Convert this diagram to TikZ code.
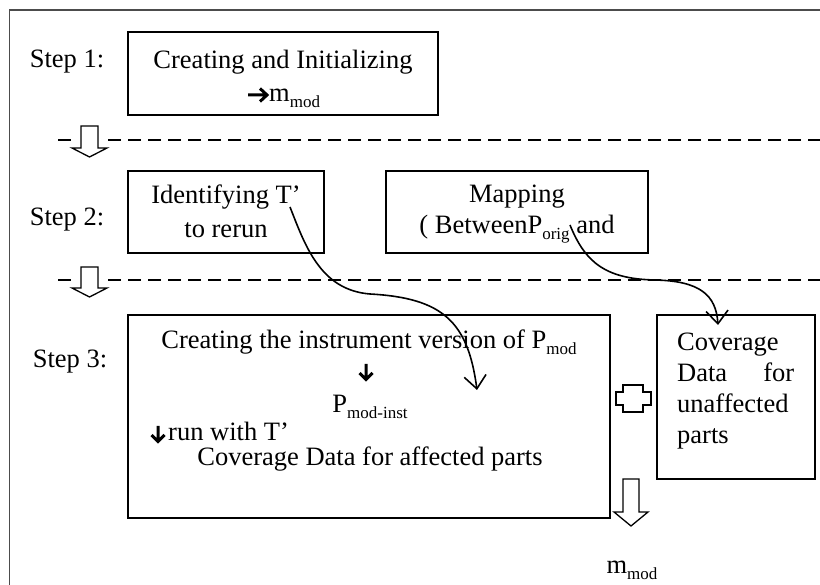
\documentclass[tikz,border=0pt]{standalone}
\usepackage{fontspec}
\setmainfont{Liberation Serif}
\usetikzlibrary{arrows.meta}
\newcommand\lsub[1]{\raisebox{-0.22em}{\fontsize{17}{17}\selectfont #1}}
\begin{document}
\begin{tikzpicture}[x=1pt,y=-1pt,
  txt/.style={font=\fontsize{26.5}{31}\selectfont, inner sep=0pt, anchor=center},
  stepbox/.style={draw=black, line width=1.3pt, fill=none, inner sep=0pt},
  frame/.style={draw=black!70, line width=1.2pt},
  sep/.style={line width=2.6pt, dash pattern=on 13pt off 7pt},
  hollow/.style={draw=black, fill=white, line width=1.3pt, line join=miter},
  glyph/.style={line width=3pt, line join=miter},
  link/.style={line width=1.6pt, -{Straight Barb[length=13pt, width=22pt]}}]
\useasboundingbox (0,0) rectangle (820,585);
% outer frame
\draw[frame] (9.5,585) -- (9.5,10) -- (820,10);
% step labels
\node[txt] (l1) at (67,62) {Step 1:};
\node[txt] (l2) at (67,220) {Step 2:};
\node[txt] (l3) at (70,362) {Step 3:};
% step 1
\node[stepbox, minimum width=310pt, minimum height=83pt] (s1) at (283,73.5) {};
\node[txt] (s1a) at (283,62) {Creating and Initializing};
\node[txt, anchor=base west] (s1b) at (269,102) {m\lsub{mod}};
\draw[glyph] (248,95) -- (265,95) (260,88.5) -- (267,95) -- (260,101.5);
% separator 1
\draw[sep] (58,140) -- (71,140) (108,140) -- (820,140);
\draw[hollow] (81,126) -- (98,126) -- (98,148) -- (107,148) -- (89.5,157) -- (72,148) -- (81,148) -- cycle;
% step 2
\node[stepbox, minimum width=196pt, minimum height=82pt] (s2a) at (226,212) {};
\node[txt] (s2a1) at (226,197) {Identifying T’};
\node[txt] (s2a2) at (226,230) {to rerun};
\node[stepbox, minimum width=262pt, minimum height=82pt] (s2b) at (517,212) {};
\node[txt] (s2b1) at (517,197) {Mapping};
\node[txt] (s2b2) at (517,229) {( BetweenP\lsub{orig} and};
% separator 2
\draw[sep] (58,280) -- (71,280) (108,280) -- (820,280);
\draw[hollow] (81,267) -- (98,267) -- (98,288) -- (107,288) -- (89.5,297) -- (72,288) -- (81,288) -- cycle;
% step 3
\node[stepbox, minimum width=482pt, minimum height=203pt] (s3) at (369,416.5) {};
\node[txt] (s3a) at (369,342) {Creating the instrument version of P\lsub{mod}};
\draw[glyph] (366,364) -- (366,378) (359.5,373) -- (366,379.5) -- (372.5,373);
\node[txt] (s3c) at (370,407) {P\lsub{mod-inst}};
\draw[glyph] (158,426) -- (158,440) (151.5,435) -- (158,441.5) -- (164.5,435);
\node[txt, anchor=base west] (s3d) at (168,441) {run with T’};
\node[txt] (s3e) at (370,459) {Coverage Data for affected parts};
\node[stepbox, minimum width=158pt, minimum height=164pt] (cov) at (736,397) {};
\node[txt, text width=117pt, align=left, anchor=north west] (covt) at (677,333)
  {Coverage\\Data\hfill for\\unaffected\\parts};
% plus
\draw[hollow] (623,385) -- (643,385) -- (643,392) -- (651,392) -- (651,405) -- (643,405) -- (643,412)
  -- (623,412) -- (623,405) -- (616,405) -- (616,392) -- (623,392) -- cycle;
% output arrow
\draw[hollow] (623,479) -- (639,479) -- (639,512) -- (648,512) -- (631,526) -- (614,512) -- (623,512) -- cycle;
\node[txt] (out) at (632,570) {m\lsub{mod}};
% connectors
\coordinate (c1s) at (290,207);
\coordinate (c1e) at (477,390);
\coordinate (c2s) at (570,225);
\coordinate (c2e) at (718,325);
\draw[link] (c1s) .. controls (305,245) and (320,290) .. (370,294) .. controls (443,298) and (468,322) .. (c1e);
\draw[link] (c2s) .. controls (585,262) and (605,279) .. (655,280) .. controls (700,281) and (716,295) .. (c2e);
\end{tikzpicture}
\end{document}
